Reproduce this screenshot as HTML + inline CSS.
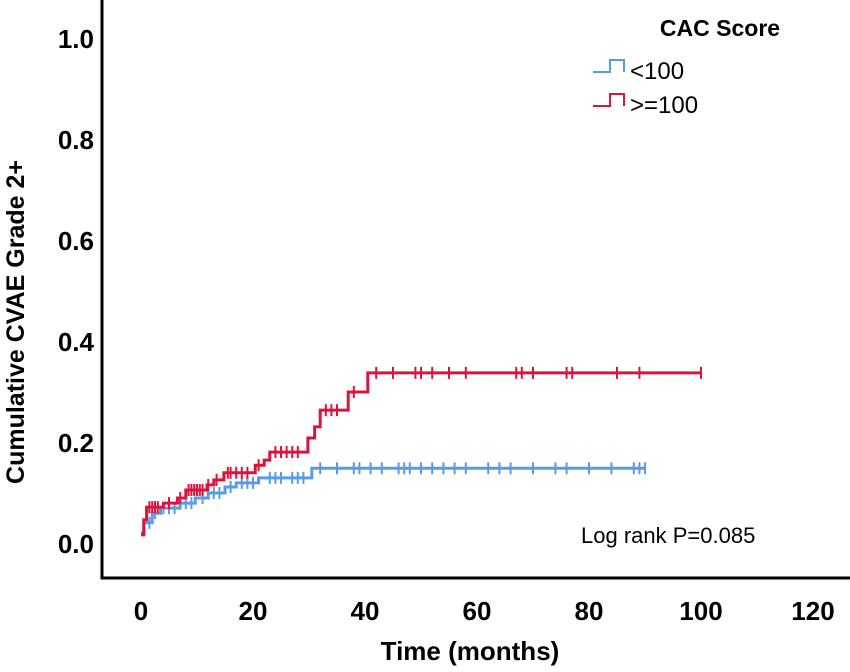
<!DOCTYPE html>
<html><head><meta charset="utf-8"><style>
body{margin:0;background:#fff}
svg text{font-family:"Liberation Sans",Arial,sans-serif}
</style></head><body>
<svg id="chart" width="850" height="667" viewBox="0 0 850 667" xmlns="http://www.w3.org/2000/svg">
<g id="axes"></g>
<g id="series"></g>
<text x="470" y="660" font-size="26" font-weight="bold" text-anchor="middle">Time (months)</text>
<text transform="translate(24,322) rotate(-90)" font-size="25" font-weight="bold" text-anchor="middle">Cumulative CVAE Grade 2+</text>
<text x="720" y="36" font-size="23" font-weight="bold" text-anchor="middle">CAC Score</text>
<g>
<path d="M593,72 H610 V60 H624 V72" fill="none" stroke="#5b9ae6" stroke-width="2"/>
<text x="630" y="79" font-size="24">&lt;100</text></g>
<g>
<path d="M593,106 H610 V94 H624 V106" fill="none" stroke="#dc143c" stroke-width="2"/>
<text x="630" y="113" font-size="24">&gt;=100</text></g>
<text x="581" y="543" font-size="22">Log rank P=0.085</text>
</svg>
<script>
const xTicks=[0,20,40,60,80,100,120];
const yTicks=[0.0,0.2,0.4,0.6,0.8,1.0];
const lowTimes=[0,0.5,2,3.5,7,9.7,12,15,17,21,30.5,90];
const lowValues=[0.02,0.04,0.059,0.069,0.079,0.089,0.099,0.111,0.119,0.129,0.148,0.148];
const lowCensor=[1.5,2.5,4,5,6,8,9,11,13,14,16,18,19,20,23,24,25,27,28,29,32,35,38,39,41,43,46,47,48,50,52,54,56,58,62,64,66,70,74,76,80,84,88,89,90];
const highTimes=[0,0.5,1,4,6.5,8,11.8,13,14.8,20.4,22,23,29.8,31,32,37,40.5,100];
const highValues=[0.016,0.046,0.071,0.079,0.089,0.105,0.115,0.125,0.139,0.154,0.164,0.18,0.208,0.23,0.263,0.299,0.337,0.337];
const highCensor=[1.5,2,2.5,3,5,7,8.5,9,9.5,10,10.5,11,12,13.5,15.5,16,17,18,19,21,24,25,26,27,28,33,34,35,38,42,45,49,50,52,55,58,67,68,70,76,77,85,89,100];
const ns="http://www.w3.org/2000/svg";
const X=t=>141+t*5.6;
const Y=v=>543-v*505;
const axes=document.getElementById('axes'),series=document.getElementById('series');
function mk(tag,attrs,parent){const e=document.createElementNS(ns,tag);for(const k in attrs)e.setAttribute(k,attrs[k]);parent.appendChild(e);return e;}
let ax=mk('path',{d:'M102,0 V578 H850',fill:'none',stroke:'#000','stroke-width':3},axes);


xTicks.forEach(t=>{const e=mk('text',{x:X(t),y:620,'font-size':26,'font-weight':'bold','text-anchor':'middle'},axes);e.textContent=t;

});
yTicks.forEach(v=>{const e=mk('text',{x:94,y:Y(v)+10,'font-size':26,'font-weight':'bold','text-anchor':'end'},axes);e.textContent=v.toFixed(1);

});
function valAt(ts,vs,t){let v=vs[0];for(let i=0;i<ts.length;i++){if(ts[i]<=t)v=vs[i];}return v;}
function draw(ts,vs,cs,color,name){
 let d='M'+X(ts[0])+','+Y(vs[0]);
 for(let i=1;i<ts.length;i++){d+=' H'+X(ts[i])+' V'+Y(vs[i]);}
 const p=mk('path',{d:d,fill:'none',stroke:color,'stroke-width':3},series);
 
 
 cs.forEach(t=>{const x=X(t),y=Y(valAt(ts,vs,t));
  const c=mk('path',{d:'M'+x+','+(y-6)+' V'+(y+6),stroke:color,'stroke-width':2},series);
  
  });
}
draw(lowTimes,lowValues,lowCensor,'#5b9ae6','low-cac');
draw(highTimes,highValues,highCensor,'#dc143c','high-cac');
</script>
</body></html>
